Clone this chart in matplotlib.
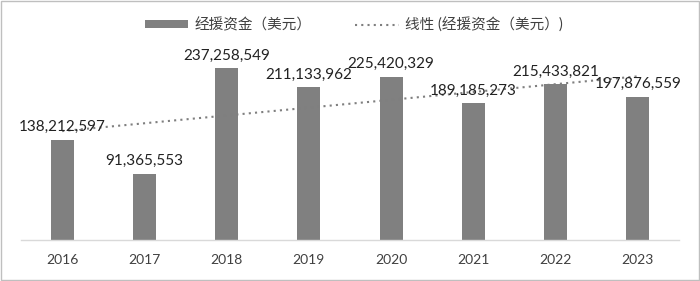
import numpy as np
import matplotlib
matplotlib.use("Agg")
import matplotlib.pyplot as plt
from matplotlib.patches import Rectangle

plt.rcParams['font.family'] = ['Lato', 'Noto Sans CJK SC', 'DejaVu Sans']

years = ['2016', '2017', '2018', '2019', '2020', '2021', '2022', '2023']
aid = [138212597, 91365553, 237258549, 211133962, 225420329, 189185273, 215433821, 197876559]
bar_label = '经援资金（美元）'
trend_label = '线性 (经援资金（美元）)'

text_color = '#404040'
bar_color = '#808080'

fig = plt.figure(figsize=(7, 2.81), dpi=100)
ax = fig.add_axes([0.03, 0.146, 0.94, 0.644])

x = np.arange(len(years))
bars = ax.bar(x, aid, width=0.28, color=bar_color, label=bar_label, zorder=2)

# linear trendline like excel
k, b = np.polyfit(x, aid, 1)
trend, = ax.plot(x, k * x + b, linestyle=(0, (1, 2.0)), color='#7f7f7f', linewidth=1.5,
                 label=trend_label, zorder=3, clip_on=False)

for xi, v in zip(x, aid):
    ax.annotate(f'{v:,}', (xi, v), xytext=(0, 4), textcoords='offset points',
                ha='center', va='bottom', fontsize=11, color='#222222',
                annotation_clip=False, zorder=4)

ax.set_xlim(-0.5, len(years) - 0.5)
ax.set_ylim(0, 250000000)
ax.set_xticks(x)
ax.set_xticklabels(years, fontsize=10, color=text_color)
ax.tick_params(axis='x', length=0, pad=10)
ax.set_yticks([])
for side in ['top', 'right', 'left']:
    ax.spines[side].set_visible(False)
ax.spines['bottom'].set_color('#d9d9d9')
ax.spines['bottom'].set_linewidth(1)

fig.legend([bars, trend], [bar_label, trend_label], loc='upper center',
           bbox_to_anchor=(0.505, 0.985), ncol=2, frameon=False,
           fontsize=10.5, handlelength=3.0, handleheight=0.5, columnspacing=3.0,
           labelcolor=text_color, handletextpad=0.4)

# outer border
fig.patches.append(Rectangle((0.002, 0.004), 0.996, 0.992, transform=fig.transFigure,
                             fill=False, edgecolor='#bfbfbf', linewidth=1))

plt.savefig('out.png', dpi=100)
